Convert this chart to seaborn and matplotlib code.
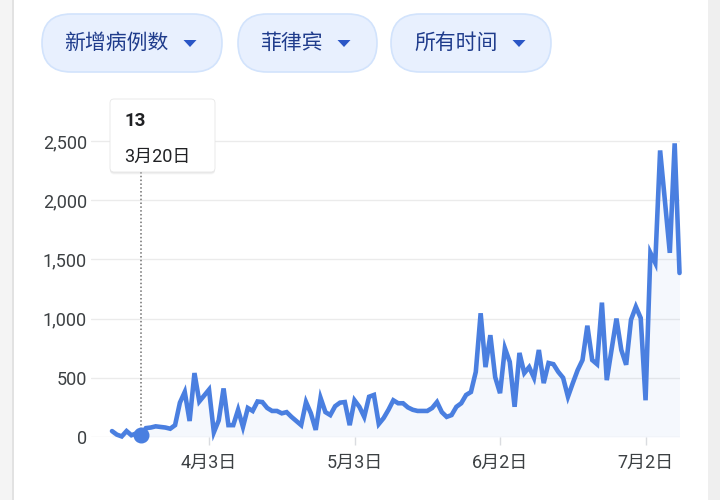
import matplotlib
matplotlib.use('Agg')
import matplotlib.pyplot as plt
import matplotlib.dates as mdates
from matplotlib.patches import FancyBboxPatch, Polygon, Rectangle
import pandas as pd
import seaborn as sns

# daily new cases, Philippines
start = '2020-03-14'
cases_mar = [50, 20, 5, 50, 15, 30, 13, 75, 80, 90, 85, 80, 70, 100, 290, 380, 135, 540]
cases_apr = [300, 350, 400, 40, 140, 410, 100, 100, 230, 85, 245, 220, 300, 295, 245,
             220, 220, 200, 210, 170, 135, 100, 295, 200, 60, 330, 210, 185, 260, 290]
cases_may = [295, 100, 310, 255, 170, 340, 355, 110, 160, 230, 310, 285, 285, 250, 230,
             220, 220, 220, 245, 295, 210, 170, 185, 255, 285, 355, 380, 550, 1045, 590, 860]
cases_jun = [505, 370, 750, 635, 255, 710, 540, 590, 500, 735, 455, 625, 615, 550, 500,
             340, 455, 565, 650, 940, 650, 615, 1135, 480, 740, 1000, 735, 610, 990, 1100]
cases_jul = [1005, 310, 1555, 1470, 2420, 1990, 1555, 2480, 1385]

tick_dates = ['2020-04-03', '2020-05-03', '2020-06-02', '2020-07-02']
y_ticks = [0, 500, 1000, 1500, 2000, 2500]
chip_labels = ['新增病例数', '菲律宾', '所有时间']
highlight_date = '2020-03-20'

cases = cases_mar + cases_apr + cases_may + cases_jun + cases_jul
df = pd.DataFrame({'date': pd.date_range(start, periods=len(cases)), 'cases': cases})

sns.set_theme(style='white')
plt.rcParams['font.family'] = ['Roboto', 'Noto Sans CJK SC']

BLUE = '#4a7fe0'
TXT = '#3c4043'

fig = plt.figure(figsize=(7.2, 5), dpi=100)
fig.patch.set_facecolor('white')

# main chart, placed in pixel terms
ax = fig.add_axes([91 / 720, 1 - 437 / 500, (680 - 91) / 720, (437 - 100) / 500], zorder=2)
ax.patch.set_alpha(0)

sns.lineplot(data=df, x='date', y='cases', ax=ax, color=BLUE, lw=3.3,
             solid_joinstyle='miter', clip_on=False, zorder=4)
ax.fill_between(df['date'], df['cases'], color=BLUE, alpha=0.05, lw=0)

d0 = mdates.date2num(df['date'].iloc[0])
ax.set_xlim(d0 - 4.33, d0 + 117.1)
ax.set_ylim(0, 2846)

ax.set_yticks(y_ticks)
ax.set_yticklabels([f'{v:,}' for v in y_ticks])
tds = pd.to_datetime(tick_dates)
ax.set_xticks(tds)
ax.set_xticklabels([f'{d.month}月{d.day}日' for d in tds])
ax.yaxis.grid(True, color='#ebebeb', lw=1)
ax.xaxis.grid(False)
for s in ax.spines.values():
    s.set_visible(False)
ax.tick_params(axis='y', length=0, pad=3, labelsize=13, labelcolor=TXT)
ax.tick_params(axis='x', bottom=True, length=6, width=1, color='#dadce0', pad=6,
               labelsize=13, labelcolor=TXT)
ax.set_xlabel('')
ax.set_ylabel('')

# highlighted day
hd = pd.Timestamp(highlight_date)
hv = df.loc[df['date'] == hd, 'cases'].iloc[0]
y_top = ax.transData.inverted().transform((0, 500 - 172))[1]
ax.plot([hd, hd], [0, y_top], ls=(0, (1, 1.5)), color='#707070', lw=1.1, zorder=3)
ax.plot([hd], [hv], 'o', ms=10.5, color=BLUE, clip_on=False, zorder=5)

# overlay for the UI chrome, pixel coordinates
ui = fig.add_axes([0, 0, 1, 1], zorder=3)
ui.set_xlim(0, 720)
ui.set_ylim(500, 0)
ui.axis('off')
ui.patch.set_alpha(0)

ui.add_patch(Rectangle((0, 0), 13, 500, fc='#f4f4f4', lw=0))
ui.add_patch(Rectangle((12, 0), 2, 500, fc='#e2e2e2', lw=0))
ui.add_patch(Rectangle((708, 0), 12, 500, fc='#efefef', lw=0))

chips = [(42, 222, 116, 190), (238, 377, 291, 344), (391, 551, 456, 519)]
for label, (x0, x1, tx, cx) in zip(chip_labels, chips):
    ui.add_patch(FancyBboxPatch((x0, 14), x1 - x0, 58,
                                boxstyle='round,pad=0,rounding_size=29',
                                fc='#e8f0fe', ec='#d2e3fc', lw=1.2))
    ui.text(tx, 43, label, fontsize=15, color='#1f3c8c', ha='center', va='center',
            family=['Noto Sans CJK SC'])
    ui.add_patch(Polygon([(cx - 6.5, 40), (cx + 6.5, 40), (cx, 47)], closed=True,
                         fc='#2a56c6', lw=0))

# tooltip
for off, a in [(2.5, 0.03), (1.5, 0.05)]:
    ui.add_patch(FancyBboxPatch((110, 99 + off), 105, 73, boxstyle='round,pad=0,rounding_size=4',
                                fc='black', alpha=a, lw=0))
ui.add_patch(FancyBboxPatch((110, 99), 105, 73, boxstyle='round,pad=0,rounding_size=4',
                            fc='white', ec='#e6e6e6', lw=0.6))
ui.text(124, 121, f'{hv}', fontsize=13.5, fontweight='bold', color='#202124', va='center')
ui.text(124, 157, f'{hd.month}月{hd.day}日', fontsize=13, color='#202124', va='center')

fig.savefig('out.png', dpi=100)
plt.close()
